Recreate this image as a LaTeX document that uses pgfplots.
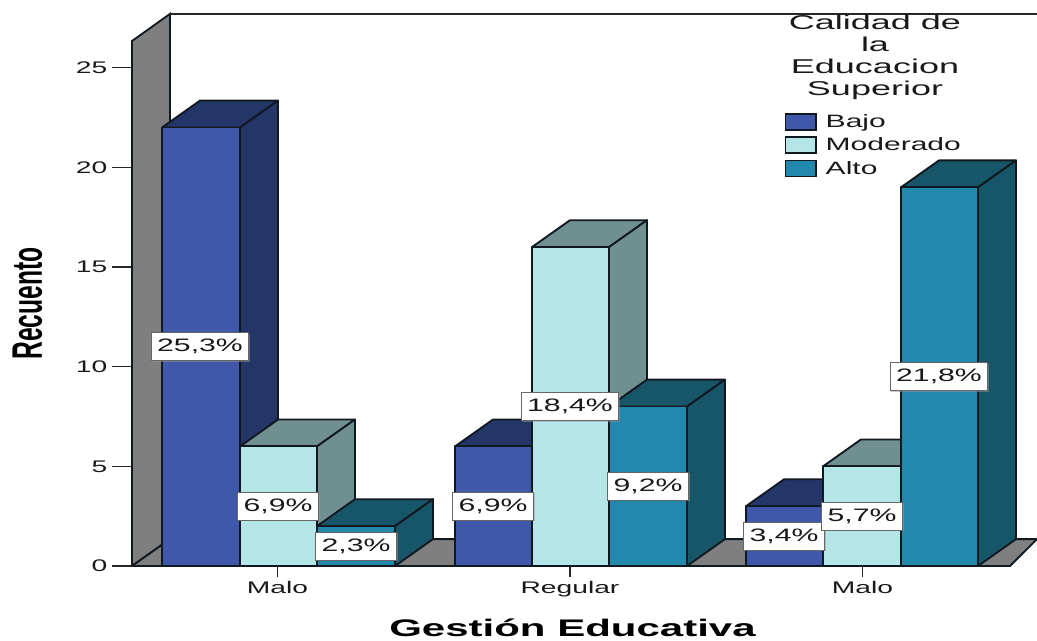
\documentclass[border=0pt]{standalone}
\usepackage{pgfplots}
\usepackage{fontspec}
\usetikzlibrary{shadows}
\pgfplotsset{compat=1.18}
\setmainfont{Liberation Sans}
\newfontfamily\widefont[FakeStretch=1.68]{Liberation Sans}
\newfontfamily\titlefont[FakeStretch=1.8]{Liberation Sans}
\newfontfamily\widebold[FakeStretch=1.75]{Liberation Sans Bold}
\newfontfamily\narrowbold[FakeStretch=0.577]{Liberation Sans Bold}

\definecolor{bajo}{HTML}{3F58A9}
\definecolor{bajoside}{HTML}{243567}
\definecolor{mod}{HTML}{B4E6E8}
\definecolor{modside}{HTML}{6F8F90}
\definecolor{alto}{HTML}{2288AC}
\definecolor{altoside}{HTML}{175568}
\definecolor{wall}{HTML}{7F7F7F}
\definecolor{edge}{HTML}{101820}

% Three faces of a block: x range of the front face and height in counts.
% The depth is 38 units across and 1.35 counts up.
\newcommand{\block}[5]{%
  \pgfmathsetmacro\xa{#1+38}%
  \pgfmathsetmacro\xb{#2+38}%
  \pgfmathsetmacro\yt{#3+1.35}%
  \addplot[forget plot,draw=edge,line width=1.4pt,fill=#5,line join=round] coordinates
    {(#1,#3) (\xa,\yt) (\xb,\yt) (#2,#3) (#1,#3)};
  \addplot[forget plot,draw=edge,line width=1.4pt,fill=#5,line join=round] coordinates
    {(#2,0) (\xb,1.35) (\xb,\yt) (#2,#3) (#2,0)};
  \addplot[forget plot,draw=edge,line width=1.4pt,fill=#4,line join=round] coordinates
    {(#1,0) (#2,0) (#2,#3) (#1,#3) (#1,0)};
}

\begin{document}
\begin{tikzpicture}[x=0.75pt,y=0.75pt]
\useasboundingbox (-132,-74) rectangle (905,566);
\begin{axis}[
  anchor=origin,
  at={(0,0)},
  scale only axis,
  width=658.5pt,
  height=393.75pt,
  xmin=132, xmax=1010,
  ymin=0, ymax=26.34,
  clip=false,
  axis y line=left,
  axis x line=bottom,
  axis line style={draw=black!85,line width=1.3pt,-},
  xtick=\empty,
  extra x ticks={277.5,570,862.5},
  extra x tick labels={Malo,Regular,Malo},
  extra x tick style={major tick length=8pt,grid=none},
  ytick={0,5,10,15,20,25},
  tick style={draw=black!85,line width=1pt},
  tick align=outside,
  major tick length=15pt,
  /pgf/number format/assume math mode=true,
  ticklabel style={font=\widefont\fontsize{12.6pt}{14pt}\selectfont,text=black!90},
  legend style={at={(axis cs:783,22.85)},anchor=north west,draw=none,fill=none,
    font=\widefont\fontsize{13.4pt}{14pt}\selectfont,text=black!90,
    row sep=2.2pt,inner sep=1pt},
  legend cell align=left,
  legend image code/.code={
    \draw[#1,line width=1.3pt] (0pt,-5.8pt) rectangle (23pt,6.2pt);
    \path (28pt,0pt);
  },
]
% legend keys
\addlegendimage{draw=edge,fill=bajo}
\addlegendentry{Bajo}
\addlegendimage{draw=edge,fill=mod}
\addlegendentry{Moderado}
\addlegendimage{draw=edge,fill=alto}
\addlegendentry{Alto}

% side wall, floor and back edges of the chart box
\addplot[forget plot,draw=edge,line width=1.4pt,fill=wall] coordinates
  {(132,0) (170,1.35) (170,27.7) (132,26.34) (132,0)};
\addplot[forget plot,draw=edge,line width=1.4pt,fill=wall] coordinates
  {(132,0) (170,1.35) (1037,1.35) (1010,0) (132,0)};
\addplot[forget plot,draw=black!85,line width=1.3pt] coordinates {(170,27.7) (1037,27.7)};

% first group
\block{162}{240}{22}{bajo}{bajoside}
\block{240}{317}{6}{mod}{modside}
\block{317}{395}{2}{alto}{altoside}
% second group
\block{455}{532}{6}{bajo}{bajoside}
\block{532}{609}{16}{mod}{modside}
\block{609}{687}{8}{alto}{altoside}
% third group
\block{746}{823}{3}{bajo}{bajoside}
\block{823}{901}{5}{mod}{modside}
\block{901}{978}{19}{alto}{altoside}

% percentage labels at half the height of each block
\addplot[forget plot,draw=none,mark=none,point meta=explicit symbolic,
  nodes near coords={\pgfplotspointmeta\%},
  nodes near coords style={anchor=center,fill=white,draw=black!60,line width=0.8pt,
    font=\widefont\fontsize{13.5pt}{15pt}\selectfont,text=black!90,
    inner xsep=4.5pt,inner ysep=0pt,minimum height=21pt,
    drop shadow={shadow xshift=0.8pt,shadow yshift=-0.8pt,fill=black!40}}]
  table[meta=lab] {
x   y    lab
200 11   25,3
278 3    6,9
356 1    2,3
493 3    6,9
570 8    18,4
648 4    9,2
784 1.5  3,4
862 2.5  5,7
939 9.5  21,8
};

% legend heading
\node[font=\titlefont\fontsize{15pt}{16.5pt}\selectfont,align=center,text=black!90,anchor=north]
  at (axis cs:875,27.9) {Calidad de\\la\\Educacion\\Superior};
\end{axis}
\node[rotate=90,font=\narrowbold\fontsize{32pt}{34pt}\selectfont] at (-104.5,262.5) {Recuento};
\node[font=\widebold\fontsize{18pt}{20pt}\selectfont] at (440.5,-62) {Gestión Educativa};
\end{tikzpicture}
\end{document}
